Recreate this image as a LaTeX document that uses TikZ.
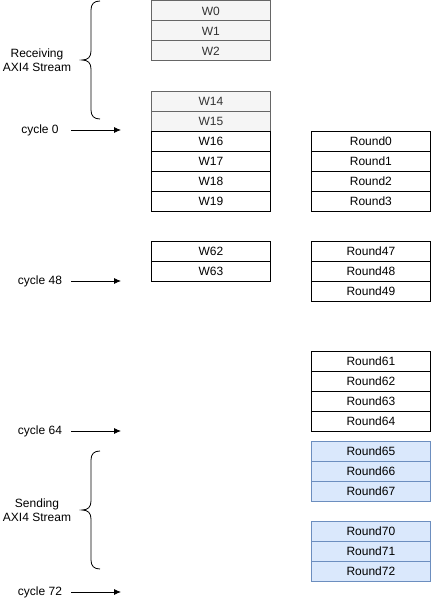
\documentclass[tikz,border=0pt]{standalone}
\usepackage{fontspec}
\setmainfont{Liberation Sans}
\usetikzlibrary{arrows.meta}
\definecolor{grayfill}{HTML}{F5F5F5}
\definecolor{graydraw}{HTML}{666666}
\definecolor{graytext}{HTML}{333333}
\definecolor{bluefill}{HTML}{DAE8FC}
\definecolor{bluedraw}{HTML}{6C8EBF}
\tikzset{
  cell/.style={draw=black, fill=white, minimum width=119pt, minimum height=20pt, inner sep=0pt, anchor=north west, font=\fontsize{12pt}{14pt}\selectfont, line width=0.8pt},
  graycell/.style={cell, draw=graydraw, fill=grayfill, text=graytext},
  bluecell/.style={cell, draw=bluedraw, fill=bluefill},
  lbl/.style={font=\fontsize{12pt}{14pt}\selectfont, align=center, inner sep=0pt},
  cyclearrow/.style={-{Latex[length=7pt,width=6pt]}, line width=0.8pt},
  bracestyle/.style={line width=0.8pt}
}
\begin{document}
\begin{tikzpicture}[x=1pt,y=-1pt]
\useasboundingbox (0,0) rectangle (431,602);
% W column
\node[graycell] (w0) at (151,0.5) {W0};
\node[graycell] (w1) at (151,20.5) {W1};
\node[graycell] (w2) at (151,40.5) {W2};
\node[graycell] (w14) at (151,91) {W14};
\node[graycell] (w15) at (151,111) {W15};
\node[cell] (w16) at (151,131) {W16};
\node[cell] (w17) at (151,151) {W17};
\node[cell] (w18) at (151,171) {W18};
\node[cell] (w19) at (151,191) {W19};
\node[cell] (w62) at (151,241) {W62};
\node[cell] (w63) at (151,261) {W63};
% Round column
\node[cell] (r0) at (311,131) {Round0};
\node[cell] (r1) at (311,151) {Round1};
\node[cell] (r2) at (311,171) {Round2};
\node[cell] (r3) at (311,191) {Round3};
\node[cell] (r47) at (311,241) {Round47};
\node[cell] (r48) at (311,261) {Round48};
\node[cell] (r49) at (311,281) {Round49};
\node[cell] (r61) at (311,351) {Round61};
\node[cell] (r62) at (311,371) {Round62};
\node[cell] (r63) at (311,391) {Round63};
\node[cell] (r64) at (311,411) {Round64};
\node[bluecell] (r65) at (311,441) {Round65};
\node[bluecell] (r66) at (311,461) {Round66};
\node[bluecell] (r67) at (311,481) {Round67};
\node[bluecell] (r70) at (311,521) {Round70};
\node[bluecell] (r71) at (311,541) {Round71};
\node[bluecell] (r72) at (311,561) {Round72};
% cycle labels and arrows
\node[lbl] (c0) at (40,130) {cycle 0};
\node[lbl] (c48) at (40,281) {cycle 48};
\node[lbl] (c64) at (40,431) {cycle 64};
\node[lbl] (c72) at (40,592) {cycle 72};
\foreach \n/\y in {a0/130,a48/281,a64/431,a72/592}{
  \coordinate (\n s) at (71,\y);
  \coordinate (\n e) at (121,\y);
}
\draw[cyclearrow] (a0s) -- (a0e);
\draw[cyclearrow] (a48s) -- (a48e);
\draw[cyclearrow] (a64s) -- (a64e);
\draw[cyclearrow] (a72s) -- (a72e);
% braces
\draw[bracestyle] (100,1) .. controls (94,1) and (91,4) .. (91,10) -- (91,51)
  .. controls (91,57) and (88,60) .. (82,60)
  .. controls (88,60) and (91,63) .. (91,69) -- (91,110)
  .. controls (91,116) and (94,119) .. (100,119);
\node[lbl] (recv) at (37,60) {Receiving\\AXI4 Stream};
\draw[bracestyle] (100,451) .. controls (94,451) and (91,454) .. (91,460) -- (91,501)
  .. controls (91,507) and (88,510) .. (82,510)
  .. controls (88,510) and (91,513) .. (91,519) -- (91,560)
  .. controls (91,566) and (94,569) .. (100,569);
\node[lbl] (send) at (37,510) {Sending\\AXI4 Stream};
\end{tikzpicture}
\end{document}
